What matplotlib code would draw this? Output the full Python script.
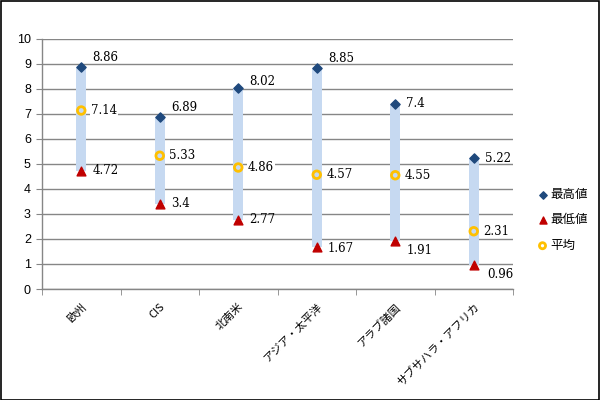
import matplotlib
matplotlib.use("Agg")
import matplotlib.pyplot as plt
from matplotlib.patches import Rectangle
import numpy as np

categories = ["欧州", "CIS", "北南米", "アジア・太平洋", "アラブ諸国", "サブサハラ・アフリカ"]
high = [8.86, 6.89, 8.02, 8.85, 7.4, 5.22]
low = [4.72, 3.4, 2.77, 1.67, 1.91, 0.96]
avg = [7.14, 5.33, 4.86, 4.57, 4.55, 2.31]
yticks = list(range(0, 11))

# label offsets in points (style only)
high_off = [(8, 7), (8, 7), (8, 5), (8, 7), (8, 0), (8, 0)]
low_off = [(8, 0), (8, 0), (8, 0), (8, -1), (8, -7), (10, -7)]
avg_off = [(7, 0), (7, 0), (7, 0), (7, 0), (7, 0), (7, 0)]

plt.rcParams['font.family'] = ['Liberation Sans', 'Noto Sans CJK JP', 'DejaVu Sans']

fig = plt.figure(figsize=(6, 4), dpi=100)
ax = fig.add_axes([0.07, 0.2775, 0.785, 0.625])

x = np.arange(len(categories))
ax.bar(x, np.array(high) - np.array(low), bottom=low, width=0.13, color='#C6D9F1', zorder=2)
ax.scatter(x, high, marker='D', s=22, color='#1F497D', zorder=3, label='最高値')
ax.scatter(x, low, marker='^', s=40, color='#C00000', zorder=3, label='最低値')
ax.scatter(x, avg, marker='o', s=30, facecolors='none', edgecolors='#FFC000', linewidths=2, zorder=3, label='平均')

serif = ['DejaVu Serif']
for i in range(len(categories)):
    ax.annotate(f"{high[i]:g}", (x[i], high[i]), xytext=high_off[i], textcoords='offset points',
                ha='left', va='center', fontsize=8.5, family=serif, zorder=4)
    ax.annotate(f"{low[i]:g}", (x[i], low[i]), xytext=low_off[i], textcoords='offset points',
                ha='left', va='center', fontsize=8.5, family=serif, zorder=4)
    ax.annotate(f"{avg[i]:g}", (x[i], avg[i]), xytext=avg_off[i], textcoords='offset points',
                ha='left', va='center', fontsize=8.5, family=serif, zorder=4,
                bbox=dict(boxstyle='square,pad=0.05', fc='white', ec='none'))

ax.set_xlim(-0.5, len(categories) - 0.5)
ax.set_ylim(0, 10)
ax.set_yticks(yticks)
ax.set_yticklabels([str(v) for v in yticks], fontsize=9)
ax.set_xticks(x)
ax.set_xticklabels(categories, rotation=45, ha='right', rotation_mode='anchor',
                   fontsize=8, family=['Noto Sans CJK JP'])
ax.set_xticks(np.arange(-0.5, len(categories)), minor=True)
ax.tick_params(axis='x', which='major', length=0, pad=9)
ax.tick_params(axis='x', which='minor', length=4, color='#868686', direction='out')
ax.tick_params(axis='y', length=4, color='#868686', direction='out', pad=4)

ax.yaxis.grid(True, color='#868686', linewidth=1)
ax.set_axisbelow(True)
for s in ['top', 'right']:
    ax.spines[s].set_visible(False)
for s in ['left', 'bottom']:
    ax.spines[s].set_color('#868686')
    ax.spines[s].set_linewidth(1)

leg = fig.legend(loc='center left', bbox_to_anchor=(0.875, 0.45), frameon=False,
                 prop={'family': ['Noto Sans CJK JP'], 'size': 9},
                 handletextpad=0.1, labelspacing=1.0, handlelength=1.0, markerscale=0.8)

fig.patches.append(Rectangle((0.001, 0.001), 0.997, 0.997, transform=fig.transFigure,
                             fill=False, ec='black', lw=1.2))

fig.savefig('out.png', dpi=100)
